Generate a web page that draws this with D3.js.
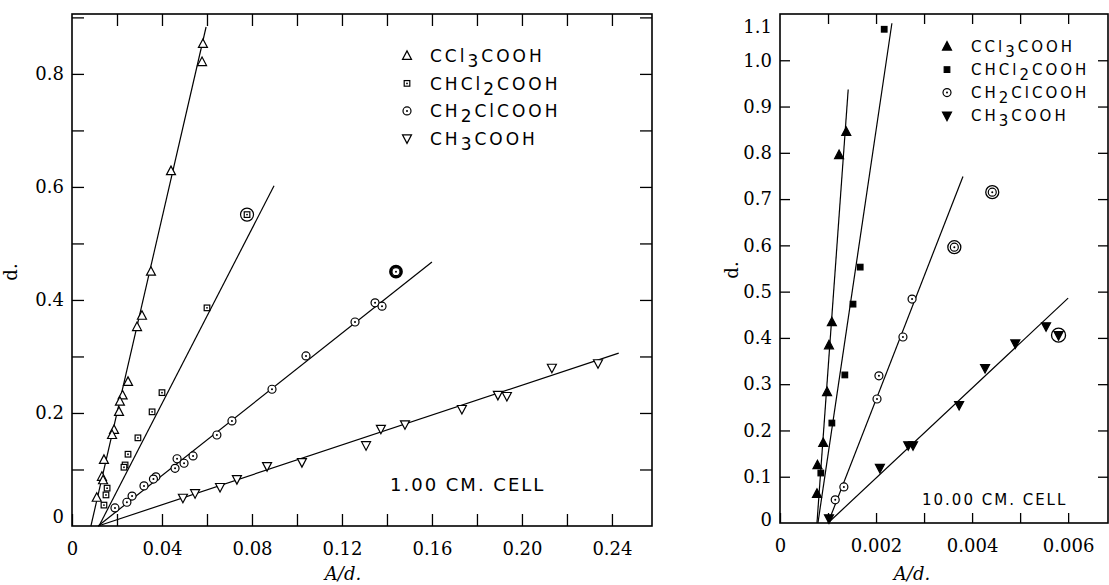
<!DOCTYPE html>
<html>
<head>
<meta charset="utf-8">
<script src="https://cdn.jsdelivr.net/npm/d3@7"></script>
<style>
  body { margin: 0; background: #fff; }
  svg { display: block; }
</style>
</head>
<body>
<div id="chart"></div>
<script>
// ---- data ----
const acids = ["CCl3COOH", "CHCl2COOH", "CH2ClCOOH", "CH3COOH"]

// 1.00 cm cell  [A/d, d]
const ccl3Left = [[0.0582, 0.853], [0.0578, 0.821], [0.044, 0.628], [0.0351, 0.45], [0.0311, 0.372],
  [0.0289, 0.352], [0.0249, 0.255], [0.0225, 0.231], [0.0213, 0.22], [0.0209, 0.202], [0.0187, 0.17],
  [0.0178, 0.161], [0.0142, 0.117], [0.0133, 0.087], [0.0138, 0.081], [0.011, 0.05]]
const chcl2Left = [[0.0778, 0.551], [0.06, 0.386], [0.04, 0.236], [0.0356, 0.202], [0.0293, 0.156],
  [0.0249, 0.127], [0.0236, 0.108], [0.0231, 0.104], [0.0156, 0.067], [0.0151, 0.055], [0.0142, 0.037]]
const ch2clLeft = [[0.144, 0.45], [0.1347, 0.395], [0.1378, 0.389], [0.1258, 0.361], [0.104, 0.301],
  [0.0889, 0.242], [0.0711, 0.186], [0.0644, 0.161], [0.0538, 0.124], [0.0498, 0.111], [0.0467, 0.119],
  [0.0458, 0.102], [0.0373, 0.087], [0.0362, 0.083], [0.032, 0.071], [0.0267, 0.053], [0.0244, 0.042],
  [0.0191, 0.032]]
const ch3Left = [[0.2338, 0.288], [0.2133, 0.28], [0.1933, 0.23], [0.1893, 0.232], [0.1733, 0.207],
  [0.148, 0.18], [0.1373, 0.172], [0.1307, 0.143], [0.1022, 0.113], [0.0867, 0.106], [0.0733, 0.083],
  [0.0658, 0.069], [0.0547, 0.058], [0.0493, 0.05]]
// fitted lines, left panel
const linesLeft = [
  [[0.0084, 0], [0.0596, 0.883]],
  [[0.012, 0], [0.0898, 0.602]],
  [[0.0116, 0], [0.16, 0.467]],
  [[0.0116, 0], [0.243, 0.306]]
]
// circled points, left panel [series, index]
const ringedLeft = [[1, 0], [2, 0]]

// 10.00 cm cell
const ccl3Right = [[0.00138, 0.845], [0.00123, 0.795], [0.00108, 0.434], [0.00102, 0.384], [0.00098, 0.283],
  [0.0009, 0.173], [0.00078, 0.125], [0.00077, 0.063]]
const chcl2Right = [[0.00217, 1.067], [0.00167, 0.553], [0.00152, 0.473], [0.00135, 0.32], [0.00108, 0.216],
  [0.00085, 0.108]]
const ch2clRight = [[0.00442, 0.715], [0.00363, 0.596], [0.00275, 0.484], [0.00256, 0.402], [0.00206, 0.318],
  [0.00202, 0.268], [0.00133, 0.078], [0.00115, 0.05]]
const ch3Right = [[0.0058, 0.406], [0.00554, 0.425], [0.0049, 0.388], [0.00427, 0.335], [0.00373, 0.255],
  [0.00277, 0.168], [0.00267, 0.168], [0.00208, 0.119], [0.00102, 0.01]]
const linesRight = [
  [[0.00077, 0], [0.00142, 0.937]],
  [[0.00079, 0], [0.00233, 1.08]],
  [[0.001, 0], [0.00381, 0.749]],
  [[0.001, 0], [0.006, 0.486]]
]
const ringedRight = [[2, 0], [2, 1], [3, 0]]

// ticks
const xTicksLeft = d3.range(0, 0.25, 0.02)
const xLabelsLeft = [0, 0.04, 0.08, 0.12, 0.16, 0.20, 0.24]
const yTicksLeft = d3.range(0, 0.95, 0.1)
const yLabelsLeft = [0, 0.2, 0.4, 0.6, 0.8]
const xTicksRight = d3.range(0, 0.0069, 0.001)
const xLabelsRight = [0, 0.002, 0.004, 0.006]
const yTicksRight = d3.range(0, 1.05, 0.1)
const yLabelsRight = [0, 0.1, 0.2, 0.3, 0.4, 0.5, 0.6, 0.7, 0.8, 0.9, 1.0, 1.1]

const svg = d3.select("#chart")
  .append("svg")
    .attr("width", 1109)
    .attr("height", 585)

const serif = "'DejaVu Serif', serif"
const sans = "'DejaVu Sans', sans-serif"

// marker shapes
const drawMarker = (g, kind, filled, x, y) => {
  const fill = filled ? "black" : "white"
  if (kind === 0) {
    g.append("path").attr("d", `M${x},${y - 5}L${x + 4.5},${y + 3.5}L${x - 4.5},${y + 3.5}Z`)
      .attr("fill", fill).attr("stroke", "black").attr("stroke-width", 1.2)
  } else if (kind === 1) {
    g.append("rect").attr("x", x - 2.8).attr("y", y - 2.8).attr("width", 5.6).attr("height", 5.6)
      .attr("fill", fill).attr("stroke", "black").attr("stroke-width", 1.2)
    if (!filled) g.append("circle").attr("cx", x).attr("cy", y).attr("r", 0.9).attr("fill", "black")
  } else if (kind === 2) {
    g.append("circle").attr("cx", x).attr("cy", y).attr("r", 4)
      .attr("fill", "white").attr("stroke", "black").attr("stroke-width", 1.2)
    g.append("circle").attr("cx", x).attr("cy", y).attr("r", 1).attr("fill", "black")
  } else {
    g.append("path").attr("d", `M${x},${y + 5}L${x + 4.5},${y - 3.5}L${x - 4.5},${y - 3.5}Z`)
      .attr("fill", fill).attr("stroke", "black").attr("stroke-width", 1.2)
  }
}

// formula with lowered digits
const drawLabel = (g, name, x, y, size, ls) => {
  const t = g.append("text")
    .attr("x", x).attr("y", y)
    .style("font-family", sans)
    .style("font-size", size + "px")
    .style("letter-spacing", ls + "px")
  const parts = name.match(/\d|\D+/g)
  let low = false
  parts.forEach(p => {
    const isDigit = /\d/.test(p)
    let dy = 0
    if (isDigit && !low) dy = size * 0.32
    if (!isDigit && low) dy = -size * 0.32
    low = isDigit
    t.append("tspan").attr("dy", dy).text(p)
  })
}

const drawPanel = (cfg) => {
  const g = svg.append("g")
  const x = cfg.x, y = cfg.y

  // ticks
  const fmt = (labels, dec) => d => labels.some(l => Math.abs(l - d) < 1e-9) ? (d === 0 ? "0" : d.toFixed(dec)) : ""
  g.append("g")
    .attr("transform", `translate(0, ${y.range()[0]})`)
    .call(d3.axisBottom(x).tickValues(cfg.xTicks).tickSize(-cfg.tick).tickPadding(16)
      .tickFormat(fmt(cfg.xLabels, cfg.xDec)))
  g.append("g")
    .attr("transform", `translate(0, ${y.range()[1]})`)
    .call(d3.axisTop(x).tickValues(cfg.xTicks.filter(d => d > 0)).tickSize(-cfg.tick).tickFormat(""))
  const left = g.append("g")
    .attr("transform", `translate(${x.range()[0]}, 0)`)
    .call(d3.axisLeft(y).tickValues(cfg.yLabels).tickSize(0).tickPadding(8)
      .tickFormat(fmt(cfg.yLabels, 1)))
  g.append("g")
    .attr("transform", `translate(${x.range()[0]}, 0)`)
    .call(d3.axisLeft(y).tickValues(cfg.yTicks.filter(d => d > 0)).tickSize(-cfg.tick).tickFormat(""))
  g.append("g")
    .attr("transform", `translate(${x.range()[1]}, 0)`)
    .call(d3.axisRight(y).tickValues(cfg.yTicks.filter(d => d > 0)).tickSize(-cfg.tick).tickFormat(""))

  g.selectAll(".domain").remove()
  g.selectAll(".tick line").attr("stroke", "black").attr("stroke-width", 1.3)
  g.selectAll(".tick text")
    .style("font-family", serif)
    .style("font-size", "18px")
    .attr("fill", "black")
  left.selectAll(".tick text").filter(d => d === 0).attr("dy", cfg.zeroDy)
  left.selectAll(".tick text").filter(d => Math.abs(d - y.domain()[1]) < 0.02).attr("dy", "1.05em")

  // frame
  g.append("rect")
    .attr("x", x.range()[0]).attr("y", y.range()[1])
    .attr("width", x.range()[1] - x.range()[0])
    .attr("height", y.range()[0] - y.range()[1])
    .attr("fill", "none").attr("stroke", "black").attr("stroke-width", 1.6)

  // fitted lines
  g.selectAll(".fit")
    .data(cfg.lines)
    .join("line")
      .attr("x1", d => x(d[0][0])).attr("y1", d => y(d[0][1]))
      .attr("x2", d => x(d[1][0])).attr("y2", d => y(d[1][1]))
      .attr("stroke", "black").attr("stroke-width", 1.2)

  // rings behind circled points
  cfg.ringed.forEach(([s, i]) => {
    const p = cfg.series[s][i]
    g.append("circle").attr("cx", x(p[0])).attr("cy", y(p[1])).attr("r", cfg.ringR[s])
      .attr("fill", "white").attr("stroke", "black").attr("stroke-width", cfg.ringW[s])
  })

  // points
  cfg.series.forEach((pts, s) => {
    pts.forEach(p => drawMarker(g, s, cfg.filled && s !== 2, x(p[0]), y(p[1])))
  })

  // legend
  acids.forEach((a, i) => {
    const ly = cfg.legend.y + i * cfg.legend.dy
    drawMarker(g, i, cfg.filled && i !== 2, cfg.legend.mx, ly - cfg.legend.size * 0.36)
    drawLabel(g, a, cfg.legend.tx, ly, cfg.legend.size, cfg.legend.ls)
  })

  g.append("text")
    .attr("x", cfg.cell.x).attr("y", cfg.cell.y)
    .style("font-family", sans)
    .style("font-size", cfg.cell.size + "px")
    .style("letter-spacing", "2px")
    .text(cfg.cell.text)

  // axis titles
  g.append("text")
    .attr("transform", `translate(${cfg.dTitle[0]}, ${cfg.dTitle[1]}) rotate(-90)`)
    .attr("text-anchor", "middle")
    .style("font-family", serif)
    .style("font-size", "18px")
    .text("d.")
  g.append("text")
    .attr("x", cfg.aTitle[0]).attr("y", cfg.aTitle[1])
    .attr("text-anchor", "middle")
    .style("font-family", serif)
    .style("font-size", "18px")
    .style("font-style", "italic")
    .text("A/d.")
}

drawPanel({
  x: d3.scaleLinear().domain([0, 0.2578]).range([72, 652]),
  y: d3.scaleLinear().domain([0, 0.906]).range([526, 14]),
  xTicks: xTicksLeft, xLabels: xLabelsLeft, xDec: 2,
  yTicks: yTicksLeft, yLabels: yLabelsLeft,
  tick: 12, zeroDy: "-0.2em",
  series: [ccl3Left, chcl2Left, ch2clLeft, ch3Left],
  lines: linesLeft,
  ringed: ringedLeft, ringR: [6, 6.5, 5.5, 6], ringW: [1, 1.2, 2.8, 1],
  filled: false,
  legend: { mx: 407, tx: 430, y: 62, dy: 27.5, size: 17, ls: 3 },
  cell: { x: 390, y: 491, size: 18, text: "1.00 CM. CELL" },
  dTitle: [17, 272], aTitle: [343, 580]
})

drawPanel({
  x: d3.scaleLinear().domain([0, 0.00683]).range([780, 1108]),
  y: d3.scaleLinear().domain([0, 1.1]).range([523, 14]),
  xTicks: xTicksRight, xLabels: xLabelsRight, xDec: 3,
  yTicks: yTicksRight, yLabels: yLabelsRight,
  tick: 10, zeroDy: "0.15em",
  series: [ccl3Right, chcl2Right, ch2clRight, ch3Right],
  lines: linesRight,
  ringed: ringedRight, ringR: [6, 6, 6.5, 7], ringW: [1, 1, 1.3, 1.3],
  filled: true,
  legend: { mx: 947, tx: 971, y: 52, dy: 23, size: 15, ls: 3 },
  cell: { x: 922, y: 505, size: 15, text: "10.00 CM. CELL" },
  dTitle: [738, 270], aTitle: [912, 580]
})
</script>
</body>
</html>
